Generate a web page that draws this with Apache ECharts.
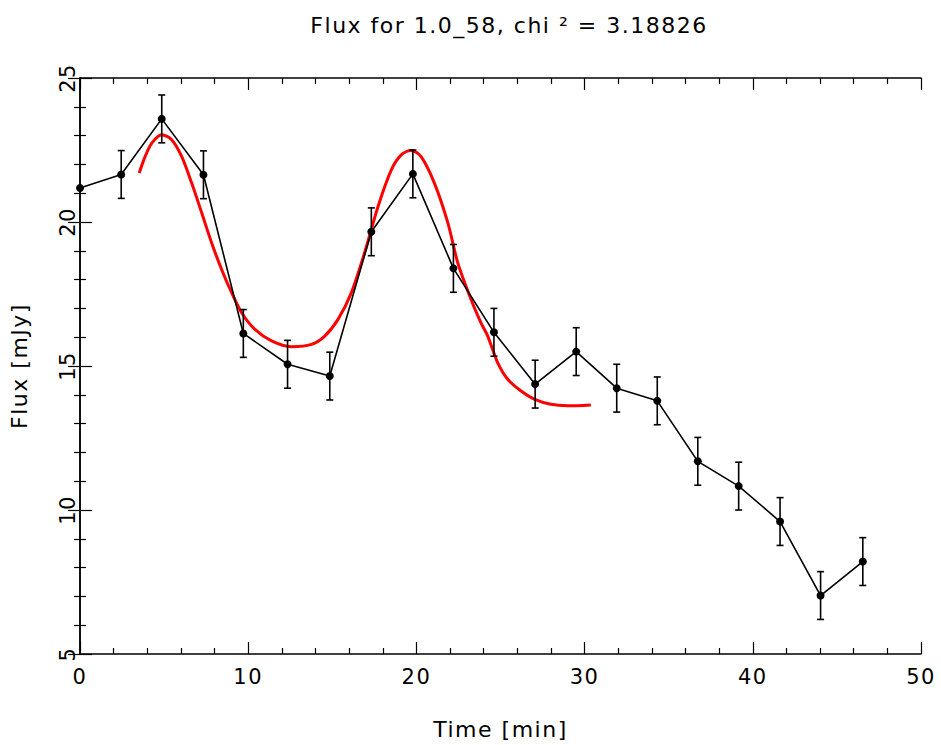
<!DOCTYPE html>
<html>
<head>
<meta charset="utf-8">
<script src="https://cdn.jsdelivr.net/npm/echarts@6/dist/echarts.min.js"></script>
<style>
  html, body { margin: 0; padding: 0; background: #fff; }
  #chart { width: 941px; height: 745px; }
  #chart text { letter-spacing: 1.5px; }
</style>
</head>
<body>
<div id="chart"></div>
<script>
// measured light curve
var timeMin = [0, 2.45, 4.86, 7.34, 9.71, 12.34, 14.85, 17.32, 19.79, 22.2,
  24.61, 27.06, 29.5, 31.91, 34.32, 36.73, 39.16, 41.62, 44.03, 46.54];
var fluxMJy = [21.18, 21.65, 23.58, 21.64, 16.13, 15.06, 14.65, 19.66, 21.67, 18.39,
  16.17, 14.37, 15.5, 14.23, 13.79, 11.69, 10.83, 9.6, 7.03, 8.21];
// errors (first point has none drawn)
var fluxErr = [0, 0.83, 0.83, 0.83, 0.83, 0.83, 0.83, 0.83, 0.83, 0.83,
  0.83, 0.83, 0.83, 0.83, 0.83, 0.83, 0.83, 0.83, 0.83, 0.83];

// model fit (red)
var fitTime = [3.52, 3.87, 4.27, 4.86, 5.46, 6.05, 6.64, 7.24, 7.83, 8.42, 9.02, 9.61,
  10.4, 11.39, 12.57, 13.76, 14.55, 15.34, 16.13, 16.92, 17.72, 18.51, 19.1, 19.69,
  20.28, 21.07, 21.87, 22.46, 23.25, 23.84, 24.24, 24.83, 25.43, 26.22, 27.0,
  27.99, 28.99, 30.37];
var fitFlux = [21.7, 22.27, 22.74, 23.03, 22.85, 22.27, 21.35, 20.31, 19.27, 18.35, 17.54, 16.85,
  16.27, 15.87, 15.67, 15.75, 16.04, 16.62, 17.54, 18.93, 20.54, 21.81, 22.33, 22.48,
  22.27, 21.35, 19.97, 18.58, 17.31, 16.5, 16.04, 15.12, 14.54, 14.13, 13.85,
  13.67, 13.62, 13.65];

var xTicks = [0, 10, 20, 30, 40, 50];
var yTicks = [5, 10, 15, 20, 25];

var chartDom = document.getElementById('chart');
var myChart = echarts.init(chartDom, null, { renderer: 'svg' });
var option;

var font = 'DejaVu Sans';
var axisLine = { show: true, lineStyle: { color: '#000', width: 1.5 } };
var tick = { show: true, inside: true, length: 12, lineStyle: { color: '#000', width: 1.2 } };
var minor = { show: true, length: 6, splitNumber: 5, lineStyle: { color: '#000', width: 1.2 } };

var points = timeMin.map(function (t, i) { return [t, fluxMJy[i]]; });
var bars = [];
timeMin.forEach(function (t, i) {
  if (fluxErr[i] > 0) bars.push([t, fluxMJy[i] - fluxErr[i], fluxMJy[i] + fluxErr[i]]);
});
var fit = fitTime.map(function (t, i) { return [t, fitFlux[i]]; });

option = {
  animation: false,
  backgroundColor: '#fff',
  title: {
    text: 'Flux for 1.0_58, chi \u00b2 = 3.18826',
    left: 504,
    textAlign: 'center',
    top: 9,
    textStyle: { fontFamily: font, fontSize: 22, fontWeight: 'normal', color: '#000' }
  },
  grid: { left: 78, right: 20, top: 78, bottom: 90 },
  xAxis: [
    {
      type: 'value', min: xTicks[0], max: xTicks[xTicks.length - 1], interval: 10,
      name: 'Time [min]', nameLocation: 'middle', nameGap: 64,
      nameTextStyle: { fontFamily: font, fontSize: 22, color: '#000' },
      axisLine: axisLine, axisTick: tick, minorTick: minor,
      axisLabel: { fontFamily: font, fontSize: 21, color: '#000', margin: 12 },
      splitLine: { show: false }
    },
    {
      type: 'value', position: 'top', min: xTicks[0], max: xTicks[xTicks.length - 1], interval: 10,
      axisLine: axisLine, axisTick: tick, minorTick: minor,
      axisLabel: { show: false }, splitLine: { show: false }
    }
  ],
  yAxis: [
    {
      type: 'value', min: yTicks[0], max: yTicks[yTicks.length - 1], interval: 5,
      name: 'Flux [mJy]', nameLocation: 'middle', nameGap: 50, nameRotate: 90,
      nameTextStyle: { fontFamily: font, fontSize: 22, color: '#000' },
      axisLine: axisLine, axisTick: tick, minorTick: minor,
      axisLabel: { fontFamily: font, fontSize: 21, color: '#000', rotate: 90, margin: 2 },
      splitLine: { show: false }
    },
    {
      type: 'value', position: 'right', min: yTicks[0], max: yTicks[yTicks.length - 1], interval: 5,
      axisLine: axisLine, axisTick: tick, minorTick: minor,
      axisLabel: { show: false }, splitLine: { show: false }
    }
  ],
  series: [
    {
      name: 'fit',
      type: 'line',
      data: fit,
      smooth: 0.3,
      showSymbol: false,
      lineStyle: { color: '#ff0000', width: 3 },
      z: 2
    },
    {
      name: 'errors',
      type: 'custom',
      data: bars,
      renderItem: function (params, api) {
        var x = api.value(0);
        var lo = api.coord([x, api.value(1)]);
        var hi = api.coord([x, api.value(2)]);
        var w = 3.5;
        var st = { stroke: '#000', lineWidth: 1.6 };
        return {
          type: 'group',
          children: [
            { type: 'line', shape: { x1: lo[0], y1: lo[1], x2: hi[0], y2: hi[1] }, style: st },
            { type: 'line', shape: { x1: lo[0] - w, y1: lo[1], x2: lo[0] + w, y2: lo[1] }, style: st },
            { type: 'line', shape: { x1: hi[0] - w, y1: hi[1], x2: hi[0] + w, y2: hi[1] }, style: st }
          ]
        };
      },
      z: 3
    },
    {
      name: 'flux',
      type: 'line',
      data: points,
      symbol: 'circle',
      symbolSize: 8,
      itemStyle: { color: '#000' },
      lineStyle: { color: '#000', width: 1.6 },
      z: 4
    }
  ]
};

option && myChart.setOption(option);
</script>
</body>
</html>
